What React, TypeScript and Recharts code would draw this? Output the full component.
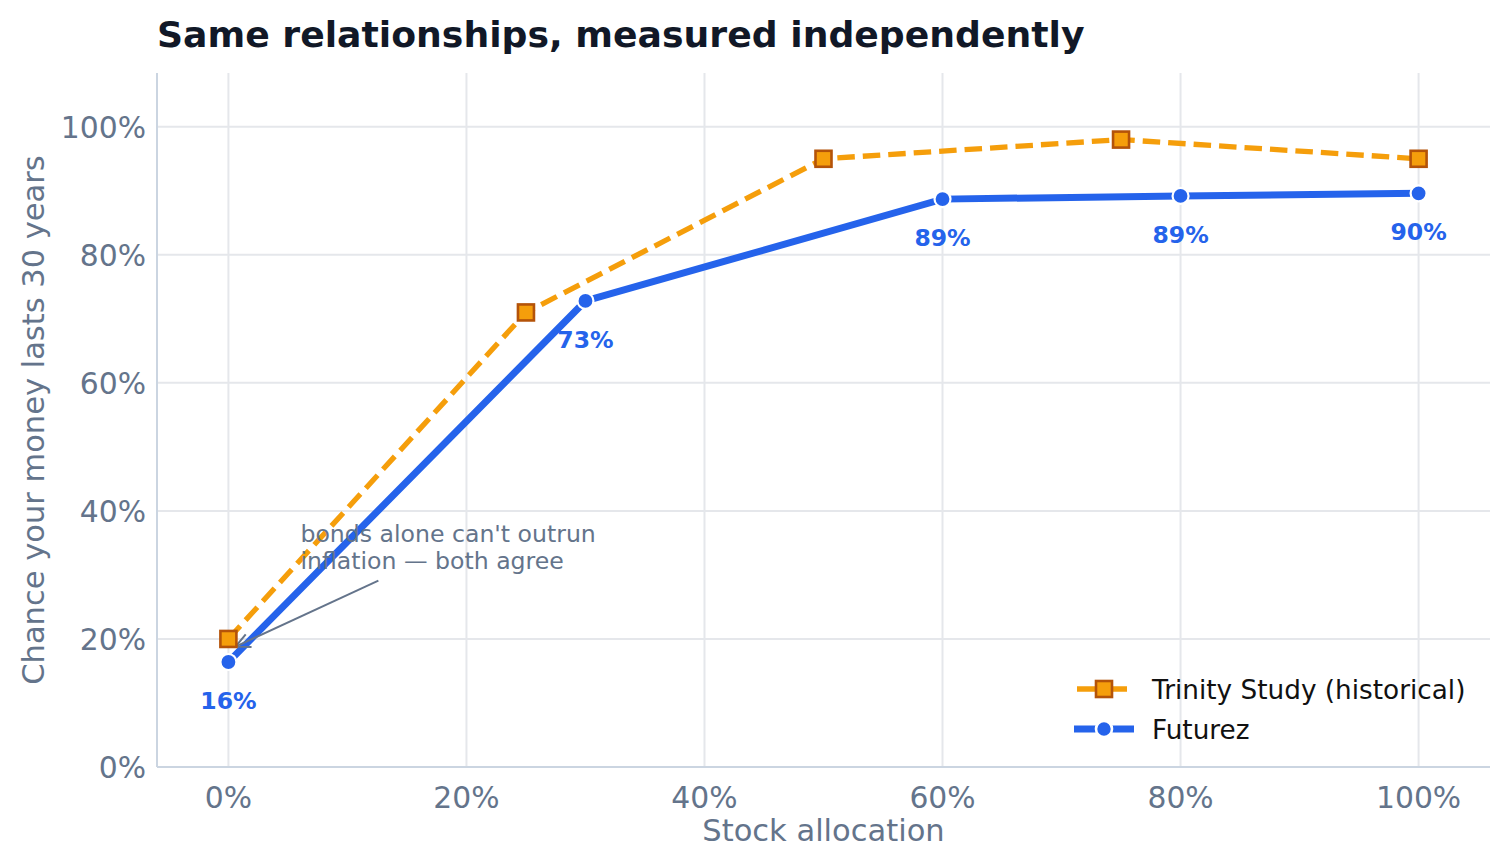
import { CartesianGrid, LabelList, Line, LineChart, ReferenceDot, ReferenceLine, XAxis, YAxis } from "recharts"

const FONT = "DejaVu Sans, sans-serif"
const SLATE = "#64748b"
const BLUE = "#2563eb"
const ORANGE = "#f59e0b"
const ORANGE_EDGE = "#b45309"

// Trinity study success rates by stock share
const trinityAlloc = [0, 25, 50, 75, 100]
const trinityRate = [20, 71, 95, 98, 95]

// Futurez simulation success rates by stock share
const futurezAlloc = [0, 30, 60, 80, 100]
const futurezRate = [16.4, 72.8, 88.7, 89.2, 89.6]

const axisTicks = [0, 20, 40, 60, 80, 100]

const trinityData = trinityAlloc.map((x, i) => ({ x, y: trinityRate[i] }))
const futurezData = futurezAlloc.map((x, i) => ({ x, y: futurezRate[i] }))

const XTick = (props: any) => {
  const { x, y, payload } = props
  return (
    <text x={x} y={y + 33} textAnchor="middle" fontFamily={FONT} fontSize={29.8} fill={SLATE}>
      {payload.value}%
    </text>
  )
}

const YTick = (props: any) => {
  const { x, y, payload } = props
  return (
    <text x={x - 3} y={y + 10.8} textAnchor="end" fontFamily={FONT} fontSize={29.8} fill={SLATE}>
      {payload.value}%
    </text>
  )
}

const SquareDot = (props: any) => {
  const { cx, cy, index } = props
  return (
    <rect
      key={`sq-${index}`}
      x={cx - 8}
      y={cy - 8}
      width={16}
      height={16}
      fill={ORANGE}
      stroke={ORANGE_EDGE}
      strokeWidth={2.6}
    />
  )
}

const CircleDot = (props: any) => {
  const { cx, cy, index } = props
  return <circle key={`ci-${index}`} cx={cx} cy={cy} r={8} fill={BLUE} stroke="#fff" strokeWidth={2.2} />
}

const ValueLabel = (props: any) => {
  const { x, y, value } = props
  return (
    <text x={x} y={y + 47} textAnchor="middle" fontFamily={FONT} fontSize={23.5} fontWeight="bold" fill={BLUE}>
      {Math.round(value)}%
    </text>
  )
}

const Arrow = (props: any) => {
  const { x1, y1, x2, y2 } = props
  const ang = Math.atan2(y2 - y1, x2 - x1)
  const len = 16
  const spread = 0.45
  const ax = x2 - len * Math.cos(ang - spread)
  const ay = y2 - len * Math.sin(ang - spread)
  const bx = x2 - len * Math.cos(ang + spread)
  const by = y2 - len * Math.sin(ang + spread)
  return (
    <g stroke={SLATE} strokeWidth={2} fill="none">
      <line x1={x1} y1={y1} x2={x2} y2={y2} />
      <polyline points={`${ax},${ay} ${x2},${y2} ${bx},${by}`} />
    </g>
  )
}

const NoteText = (props: any) => {
  const { cx, cy } = props
  return (
    <text x={cx} y={cy} fontFamily={FONT} fontSize={23.6} fill={SLATE}>
      <tspan x={cx} dy={0}>bonds alone can't outrun</tspan>
      <tspan x={cx} dy={27.5}>inflation — both agree</tspan>
    </text>
  )
}

// series key, drawn bottom-right over the plot
const LegendBox = () => (
  <svg width={440} height={100} style={{ position: "absolute", left: 1060, top: 660 }}>
    <g transform="translate(-1060,-660)">
      <line x1={1077} y1={689} x2={1127} y2={689} stroke={ORANGE} strokeWidth={5.3} />
      <rect x={1096} y={681} width={16} height={16} fill={ORANGE} stroke={ORANGE_EDGE} strokeWidth={2.6} />
      <text x={1152} y={699} fontFamily={FONT} fontSize={26.3} fill="#111">
        Trinity Study (historical)
      </text>
      <line x1={1074} y1={729} x2={1134} y2={729} stroke={BLUE} strokeWidth={7} />
      <circle cx={1104} cy={729} r={8} fill={BLUE} stroke="#fff" strokeWidth={2.6} />
      <text x={1152} y={738.5} fontFamily={FONT} fontSize={26.3} fill="#111">
        Futurez
      </text>
    </g>
  </svg>
)

export default function App() {
  return (
    <div style={{ position: "absolute", left: 0, top: 0, width: 1509, height: 866, background: "#fff" }}>
      <div
        style={{
          position: "absolute",
          left: 157,
          top: 17,
          fontFamily: FONT,
          fontSize: 36.2,
          fontWeight: "bold",
          lineHeight: 1,
          color: "#111827",
          whiteSpace: "nowrap",
        }}
      >
        Same relationships, measured independently
      </div>
      <LineChart width={1509} height={866} margin={{ top: 73, right: 19, bottom: 0, left: 0 }}>
        <CartesianGrid
          stroke="#e5e7eb"
          strokeWidth={2}
          horizontalValues={axisTicks}
          verticalValues={axisTicks}
        />
        <XAxis
          type="number"
          dataKey="x"
          domain={[-6, 106]}
          ticks={axisTicks}
          height={99}
          tickLine={false}
          axisLine={{ stroke: "#cbd5e1", strokeWidth: 2 }}
          tick={<XTick />}
          interval={0}
          label={{
            content: (p: any) => (
              <text
                x={p.viewBox.x + p.viewBox.width / 2}
                y={p.viewBox.y + 74}
                textAnchor="middle"
                fontFamily={FONT}
                fontSize={30.5}
                fill={SLATE}
              >
                Stock allocation
              </text>
            ),
          }}
        />
        <YAxis
          type="number"
          dataKey="y"
          domain={[0, 108.4]}
          ticks={axisTicks}
          width={157}
          tickLine={false}
          axisLine={{ stroke: "#cbd5e1", strokeWidth: 2 }}
          tick={<YTick />}
          interval={0}
          label={{
            content: (p: any) => {
              const cy = p.viewBox.y + p.viewBox.height / 2
              return (
                <text
                  x={44}
                  y={cy}
                  transform={`rotate(-90, 44, ${cy})`}
                  textAnchor="middle"
                  fontFamily={FONT}
                  fontSize={30.5}
                  fill={SLATE}
                >
                  Chance your money lasts 30 years
                </text>
              )
            },
          }}
        />
        <Line
          data={trinityData}
          dataKey="y"
          name="Trinity Study (historical)"
          stroke={ORANGE}
          strokeWidth={5.3}
          strokeDasharray="17.5 8"
          dot={SquareDot}
          activeDot={false}
          isAnimationActive={false}
        />
        <Line
          data={futurezData}
          dataKey="y"
          name="Futurez"
          stroke={BLUE}
          strokeWidth={7}
          dot={CircleDot}
          activeDot={false}
          isAnimationActive={false}
        >
          <LabelList dataKey="y" content={ValueLabel} />
        </Line>
        <ReferenceLine
          segment={[
            { x: 12.6, y: 29.1 },
            { x: 0.6, y: 18.8 },
          ]}
          shape={Arrow}
        />
        <ReferenceDot x={6.05} y={35.2} r={0} shape={NoteText} />
      </LineChart>
      <LegendBox />
    </div>
  )
}
